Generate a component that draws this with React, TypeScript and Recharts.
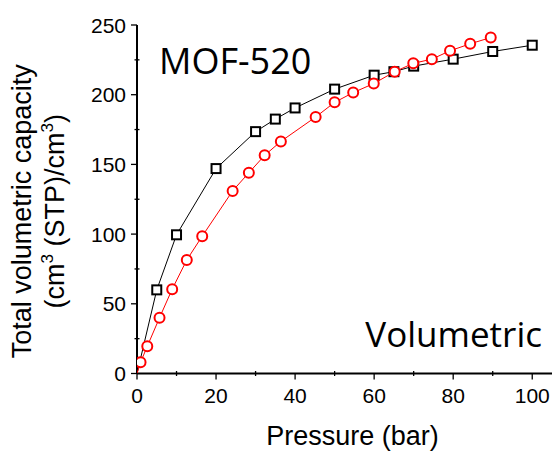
import { ScatterChart, Scatter, XAxis, YAxis } from 'recharts'

// pressure (bar) / total volumetric capacity
const squareP = [0, 5, 10, 20, 30, 35, 40, 50, 60, 65, 70, 80, 90, 100]
const squareV = [0, 60, 99.5, 147, 173.5, 182.5, 190.5, 204, 214, 216.5, 220.5, 225.5, 231, 235.5]
const circleP = [0, 0.9, 2.6, 5.7, 8.9, 12.6, 16.5, 24.2, 28.3, 32.3, 36.4, 45.2, 50, 54.7, 59.9, 65.2, 69.9, 74.6, 79.2, 84.3, 89.5]
const circleV = [0, 8, 19.5, 40, 60.5, 81.5, 98.5, 131, 144, 156.5, 166.5, 184, 194.5, 201.5, 208, 216.5, 222.5, 225.5, 231.5, 236.5, 241]

const xTicks = [0, 10, 20, 30, 40, 50, 60, 70, 80, 90, 100]
const yTicks = [0, 25, 50, 75, 100, 125, 150, 175, 200, 225, 250]

const squareData = squareP.map((x, i) => ({ x, y: squareV[i] }))
const circleData = circleP.map((x, i) => ({ x, y: circleV[i] }))

const FONT = '"Liberation Sans", Arial, sans-serif'

const BottomTick = ({ x, y, payload }: any) => {
  const major = payload.value % 20 === 0
  return (
    <g>
      <line x1={x} x2={x} y1={major ? y : y - 2.5} y2={major ? y + 6 : y + 2.5} stroke="#000" strokeWidth={1.3} />
      {major && (
        <text x={x} y={y + 15} dy="0.71em" textAnchor="middle" fontSize={21} fontFamily={FONT} fill="#000">
          {payload.value}
        </text>
      )}
    </g>
  )
}

const LeftTick = ({ x, y, payload }: any) => {
  const major = payload.value % 50 === 0
  return (
    <g>
      <line x1={major ? x - 6 : x - 2.5} x2={major ? x : x + 2.5} y1={y} y2={y} stroke="#000" strokeWidth={1.3} />
      {major && (
        <text x={x - 11} y={y} dy="0.36em" textAnchor="end" fontSize={21} fontFamily={FONT} fill="#000">
          {payload.value}
        </text>
      )}
    </g>
  )
}

const TopTick = ({ x, y }: any) => (
  <line x1={x} x2={x} y1={y} y2={y + 5} stroke="#000" strokeWidth={1.3} />
)

const RightTick = ({ x, y }: any) => (
  <line x1={x - 5} x2={x} y1={y} y2={y} stroke="#000" strokeWidth={1.3} />
)

const Square = ({ cx, cy, payload }: any) => {
  if (payload.x === 0) return <g />
  return <rect x={cx - 4.5} y={cy - 4.5} width={9} height={9} fill="#fff" stroke="#000" strokeWidth={2} />
}

const Circle = ({ cx, cy, payload }: any) => {
  if (payload.x === 0) return <g />
  return <circle cx={cx} cy={cy} r={5} fill="#fff" stroke="#ff0000" strokeWidth={2} />
}

const YTitle = (props: any) => {
  const vb = props.viewBox || { x: 0, y: 25, width: 137, height: 348 }
  const cy = vb.y + vb.height / 2 + 12
  return (
    <g fontFamily={FONT} fontSize={27} fill="#000">
      <text x={31} y={cy} textAnchor="middle" transform={`rotate(-90, 31, ${cy})`}>
        Total volumetric capacity
      </text>
      <text x={64} y={cy} textAnchor="middle" transform={`rotate(-90, 64, ${cy})`}>
        (cm<tspan fontSize={17} dy={-11}>3</tspan>
        <tspan dy={11}> (STP)/cm</tspan>
        <tspan fontSize={17} dy={-11}>3</tspan>
        <tspan dy={11}>)</tspan>
      </text>
    </g>
  )
}

const XTitle = (props: any) => {
  const vb = props.viewBox || { x: 137, y: 373.5, width: 415, height: 78.5 }
  return (
    <text x={vb.x + vb.width / 2 + 8} y={vb.y + 71.5} textAnchor="middle" fontFamily={FONT} fontSize={27} fill="#000">
      Pressure (bar)
    </text>
  )
}

export default function App() {
  return (
    <div style={{ position: 'absolute', left: 0, top: 0, width: 554, height: 452, background: '#fff' }}>
      <ScatterChart width={554} height={452} margin={{ top: 25, right: 2, bottom: 0, left: 0 }}>
        <XAxis
          xAxisId="b"
          type="number"
          dataKey="x"
          domain={[0, 105]}
          allowDataOverflow
          ticks={xTicks}
          interval={0}
          tick={<BottomTick />}
          tickLine={false}
          tickSize={0}
          tickMargin={0}
          axisLine={{ stroke: '#000', strokeWidth: 2 }}
          height={78.5}
          label={(p: any) => <XTitle {...p} />}
        />
        <XAxis
          xAxisId="t"
          orientation="top"
          type="number"
          dataKey="x"
          domain={[0, 105]}
          allowDataOverflow
          ticks={xTicks}
          interval={0}
          tick={<TopTick />}
          tickLine={false}
          tickSize={0}
          tickMargin={0}
          axisLine={{ stroke: '#000', strokeWidth: 2 }}
          height={0}
        />
        <YAxis
          yAxisId="l"
          type="number"
          dataKey="y"
          domain={[0, 250]}
          allowDataOverflow
          ticks={yTicks}
          interval={0}
          tick={<LeftTick />}
          tickLine={false}
          tickSize={0}
          tickMargin={0}
          axisLine={{ stroke: '#000', strokeWidth: 2 }}
          width={137}
          label={(p: any) => <YTitle {...p} />}
        />
        <YAxis
          yAxisId="r"
          orientation="right"
          type="number"
          dataKey="y"
          domain={[0, 250]}
          allowDataOverflow
          ticks={yTicks}
          interval={0}
          tick={<RightTick />}
          tickLine={false}
          tickSize={0}
          tickMargin={0}
          axisLine={{ stroke: '#000', strokeWidth: 2 }}
          width={0}
        />
        <Scatter
          xAxisId="b"
          yAxisId="l"
          data={squareData}
          line={{ stroke: '#000', strokeWidth: 1 }}
          shape={Square}
          isAnimationActive={false}
        />
        <Scatter
          xAxisId="b"
          yAxisId="l"
          data={circleData}
          line={{ stroke: '#ff0000', strokeWidth: 1 }}
          shape={Circle}
          isAnimationActive={false}
        />
      </ScatterChart>
      <svg width={554} height={452} style={{ position: 'absolute', left: 0, top: 0, pointerEvents: 'none' }}>
        <text x={159} y={74} fontFamily='"Open Sans", sans-serif' fontSize={36} fill="#000">
          MOF-520
        </text>
        <text x={542} y={347} textAnchor="end" fontFamily='"Open Sans", sans-serif' fontSize={35} fill="#000">
          Volumetric
        </text>
      </svg>
    </div>
  )
}
